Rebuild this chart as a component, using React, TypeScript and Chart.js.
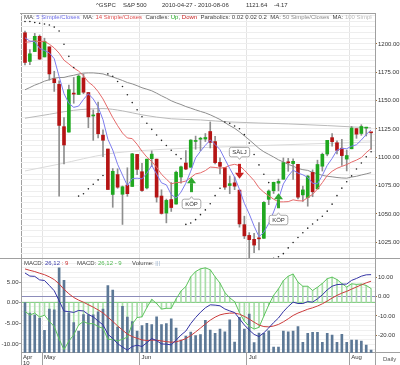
import React, { useEffect, useRef } from 'react';
import { Chart, registerables } from 'chart.js';

Chart.register(...registerables);

const FONT = "'Liberation Sans', Arial, sans-serif";

// ---------- data ----------
const dates = [
  '04-27','04-28','04-29','04-30',
  '05-03','05-04','05-05','05-06','05-07','05-10','05-11','05-12','05-13','05-14','05-17','05-18','05-19','05-20','05-21','05-24','05-25','05-26','05-27','05-28',
  '06-01','06-02','06-03','06-04','06-07','06-08','06-09','06-10','06-11','06-14','06-15','06-16','06-17','06-18','06-21','06-22','06-23','06-24','06-25','06-28','06-29','06-30',
  '07-01','07-02','07-06','07-07','07-08','07-09','07-12','07-13','07-14','07-15','07-16','07-19','07-20','07-21','07-22','07-23','07-26','07-27','07-28','07-29','07-30',
  '08-02','08-03','08-04','08-05','08-06'];

const opens = [
  1209.92,1184.59,1193.30,1206.77,1188.58,1197.50,1169.24,1164.38,1127.04,1122.27,
  1156.39,1155.43,1170.04,1157.19,1136.52,1138.78,1119.57,1107.34,1067.26,1084.78,
  1067.42,1075.51,1074.27,1102.59,1087.30,1073.01,1098.82,1098.43,1065.84,1050.81,
  1062.75,1058.77,1082.65,1095.00,1091.21,1114.02,1115.98,1116.16,1122.79,1113.90,
  1095.57,1090.93,1075.10,1077.50,1071.10,1040.56,1031.10,1027.65,1028.09,1028.54,
  1062.92,1070.50,1077.23,1080.65,1095.61,1094.46,1093.85,1066.85,1064.53,1086.67,
  1072.14,1092.17,1102.89,1117.36,1112.84,1108.07,1098.44,1107.53,1125.34,1121.06,
  1125.78,1122.07];
const highs = [
  1211.38,1195.05,1209.36,1207.99,1205.13,1197.50,1175.95,1167.58,1135.13,1163.85,
  1170.48,1172.87,1173.57,1157.19,1141.88,1148.66,1124.27,1107.34,1090.16,1089.95,
  1074.75,1090.75,1103.52,1102.59,1094.77,1098.56,1105.67,1098.43,1071.36,1063.15,
  1077.74,1087.85,1092.25,1105.91,1115.59,1118.74,1117.72,1121.01,1131.23,1118.50,
  1099.64,1090.93,1083.56,1082.60,1071.10,1048.08,1033.58,1032.95,1042.50,1060.89,
  1071.25,1078.16,1080.78,1099.46,1099.08,1098.66,1093.85,1074.70,1083.94,1088.96,
  1097.50,1103.73,1115.01,1120.95,1114.66,1115.90,1106.44,1127.30,1125.44,1128.75,
  1126.56,1122.07];
const lows = [
  1181.62,1181.81,1193.30,1186.32,1188.58,1168.12,1158.15,1065.79,1094.15,1122.27,
  1147.71,1155.43,1156.14,1126.14,1114.96,1117.20,1100.66,1071.58,1055.90,1072.70,
  1040.78,1065.59,1074.27,1084.78,1069.89,1072.03,1091.81,1060.50,1049.86,1042.17,
  1052.25,1058.77,1077.12,1089.03,1091.21,1107.13,1105.87,1113.93,1108.24,1094.18,
  1085.31,1071.60,1067.89,1071.45,1038.38,1028.33,1010.91,1015.93,1018.35,1028.54,
  1058.24,1068.10,1070.45,1080.65,1087.68,1080.53,1063.32,1061.11,1056.88,1065.25,
  1072.14,1087.88,1101.30,1109.78,1103.11,1092.82,1088.01,1107.53,1116.76,1119.46,
  1118.81,1106.92];
const closes = [
  1183.71,1191.36,1206.78,1186.69,1202.26,1173.60,1165.87,1128.15,1110.88,1159.73,
  1155.79,1171.67,1157.44,1135.68,1136.94,1120.80,1115.05,1071.59,1087.69,1073.65,
  1074.03,1067.95,1103.06,1089.41,1070.71,1098.38,1102.83,1064.88,1050.47,1062.00,
  1055.69,1086.84,1091.60,1089.63,1115.23,1114.61,1116.04,1117.51,1113.20,1095.31,
  1092.04,1073.69,1076.76,1074.57,1041.24,1030.71,1027.37,1022.58,1028.06,1060.27,
  1070.25,1077.96,1078.75,1095.34,1095.17,1096.48,1064.88,1071.25,1083.48,1069.59,
  1093.67,1102.66,1115.01,1113.84,1106.13,1101.53,1101.60,1125.86,1120.46,1127.24,
  1125.81,1121.64];

const ma5 = [
  1205.5,1202.6,1202.2,1196.1,1194.2,1192.1,1187.0,1171.3,1156.2,1147.6,
  1144.1,1145.2,1151.1,1156.1,1151.5,1144.5,1133.2,1116.0,1106.4,1093.8,
  1084.4,1075.0,1081.3,1081.6,1081.0,1085.9,1092.9,1085.2,1077.5,1075.7,
  1067.2,1064.0,1069.3,1077.2,1087.8,1099.6,1105.4,1110.6,1115.3,1111.3,
  1106.8,1098.4,1090.2,1082.5,1071.7,1059.4,1050.1,1039.3,1030.0,1033.8,
  1041.7,1051.8,1063.1,1076.5,1083.5,1088.7,1086.1,1084.6,1082.3,1077.1,
  1076.6,1084.1,1092.9,1099.0,1106.3,1107.8,1107.6,1109.8,1111.1,1115.3,
  1120.2,1124.2];
const ma14 = [
  1201.5,1201.9,1202.8,1202.1,1202.4,1199.8,1196.5,1191.9,1185.7,1182.4,
  1178.8,1176.1,1171.9,1166.4,1163.1,1158.0,1151.5,1143.3,1135.1,1127.9,
  1121.4,1117.1,1116.5,1111.5,1105.4,1100.2,1096.3,1091.2,1085.0,1080.8,
  1076.6,1077.7,1078.0,1079.1,1082.1,1085.4,1086.3,1088.3,1091.4,1091.1,
  1090.4,1091.0,1092.9,1093.8,1092.7,1088.7,1084.1,1079.4,1073.1,1069.2,
  1066.0,1063.1,1060.7,1060.7,1060.9,1062.5,1061.7,1061.5,1064.5,1067.3,
  1072.0,1077.7,1083.9,1087.7,1090.3,1092.0,1093.6,1095.8,1097.6,1099.8,
  1104.2,1107.8];
const ma50 = [
  1159.6,1161.6,1163.7,1165.3,1167.2,1168.5,1169.9,1170.4,1170.5,1171.6,
  1172.4,1173.5,1174.3,1174.5,1174.5,1174.1,1173.6,1172.2,1170.9,1169.4,
  1167.8,1166.0,1164.8,1163.2,1161.4,1160.1,1158.7,1156.6,1154.3,1152.2,
  1149.9,1148.1,1146.6,1144.8,1143.4,1141.9,1140.5,1139.2,1137.5,1135.5,
  1133.4,1130.7,1128.0,1125.6,1122.5,1119.0,1115.4,1111.7,1107.9,1104.9,
  1102.6,1100.3,1097.8,1095.9,1093.8,1092.2,1090.2,1089.1,1088.5,1086.7,
  1085.5,1084.1,1083.3,1082.8,1082.2,1081.8,1081.6,1082.6,1083.3,1084.4,
  1085.4,1086.5];
const ma100Day = [0, 5, 10, 16, 20, 24, 30, 36, 42, 54, 62, 71];
const ma100Val = [1134.5, 1138.0, 1141.5, 1143.0, 1141.0, 1137.5, 1134.0, 1133.0, 1131.2, 1129.5, 1128.0, 1126.0];
const ma200Day = [0, 7, 17, 24, 36, 46, 56, 71];
const ma200Val = [1088.0, 1094.0, 1103.0, 1106.0, 1108.5, 1110.0, 1111.5, 1113.5];

const sar = [
  1219.8,1219.8,1219.0,1218.3,1217.6,1216.8,1214.9,1211.5,1199.8,1189.1,
  1179.2,1065.8,1067.9,1072.2,1076.2,1080.1,1083.9,1173.6,1171.5,1166.9,
  1162.5,1155.2,1148.3,1141.9,1135.8,1130.1,1124.7,1119.7,1115.0,1110.5,
  1106.3,1102.4,1098.7,1040.8,1042.1,1045.0,1049.4,1053.6,1059.0,1066.2,
  1072.7,1131.2,1130.0,1127.6,1125.2,1120.0,1112.6,1102.5,1093.3,1085.1,
  1077.7,1010.9,1012.3,1015.0,1020.1,1024.8,1029.3,1033.5,1037.5,1041.2,
  1044.7,1048.0,1052.5,1058.7,1066.2,1072.8,1078.5,1083.6,1089.7,1095.0,
  1100.4,1104.9];

const macdLine = [
  12.35,10.75,10.59,8.75,8.45,5.83,3.10,-2.09,-7.50,-7.76,
  -8.19,-7.17,-7.42,-9.27,-10.51,-12.65,-14.64,-19.49,-21.79,-24.46,
  -26.24,-27.82,-25.94,-25.27,-25.94,-23.97,-21.79,-22.87,-24.60,-24.75,
  -25.09,-22.59,-19.99,-17.89,-14.00,-10.84,-8.12,-5.78,-4.23,-4.39,
  -4.73,-6.40,-7.39,-8.25,-11.49,-14.74,-17.38,-19.64,-20.74,-18.80,
  -16.27,-13.50,-11.11,-7.78,-5.10,-2.83,-3.54,-3.55,-2.55,-2.84,
  -1.12,0.96,3.56,5.47,6.29,6.49,6.58,8.51,9.49,10.69,
  11.39,11.49];
const signalLine = [
  14.47,13.73,13.10,12.23,11.47,10.34,8.89,6.70,3.86,1.54,
  -0.41,-1.76,-2.89,-4.17,-5.44,-6.88,-8.43,-10.64,-12.87,-15.19,
  -17.40,-19.48,-20.77,-21.67,-22.52,-22.81,-22.61,-22.66,-23.05,-23.39,
  -23.73,-23.50,-22.80,-21.82,-20.26,-18.37,-16.32,-14.21,-12.21,-10.65,
  -9.47,-8.86,-8.57,-8.51,-9.11,-10.24,-11.67,-13.26,-14.76,-15.57,
  -15.71,-15.27,-14.44,-13.11,-11.51,-9.77,-8.52,-7.53,-6.53,-5.79,
  -4.86,-3.70,-2.25,-0.71,0.69,1.85,2.80,3.94,5.05,6.18,
  7.22,8.07];
const macdHist = [
  -2.12,-2.98,-2.51,-3.48,-3.02,-4.51,-5.79,-8.79,-11.36,-9.30,
  -7.78,-5.41,-4.53,-5.10,-5.07,-5.77,-6.21,-8.85,-8.92,-9.27,
  -8.84,-8.34,-5.17,-3.60,-3.42,-1.16,0.82,-0.21,-1.55,-1.36,
  -1.36,0.91,2.81,3.93,6.26,7.53,8.20,8.43,7.98,6.26,
  4.74,2.46,1.18,0.26,-2.38,-4.50,-5.71,-6.38,-5.98,-3.23,
  -0.56,1.77,3.33,5.33,6.41,6.94,4.98,3.98,3.98,2.95,
  3.74,4.66,5.81,6.18,5.60,4.64,3.78,4.57,4.44,4.51,
  4.17,3.42];
const volumes = [
  7.45,6.51,6.35,6.05,4.94,6.88,6.80,10.62,9.47,6.54,
  5.65,4.87,6.38,6.35,6.35,6.62,6.87,8.99,8.59,5.24,
  7.13,6.14,5.73,4.87,5.37,5.59,5.46,6.18,5.47,5.56,
  5.98,5.14,4.06,4.42,4.79,4.47,4.56,5.86,4.97,4.68,
  5.05,4.81,5.89,3.89,6.13,5.07,6.43,3.84,4.69,4.68,
  4.90,3.43,3.43,4.87,4.81,4.87,5.29,3.86,4.68,4.77,
  4.77,3.86,4.68,4.52,3.86,4.59,3.86,4.07,4.07,3.98,
  3.62,3.16];

const priceLabels = [1025, 1050, 1075, 1100, 1125, 1150, 1175, 1200];
const macdLabels = [-20, -10, 0, 10];
const histLabels = [-10, -5, 0, 5];
const monthNames: Record<string, string> = { '04': 'Apr', '05': 'May', '06': 'Jun', '07': 'Jul', '08': 'Aug' };

const signalDay = [34, 44, 52];
const signalKind = ['buy', 'sell', 'buy'];
const signalPrice = [1082.5, 1081.0, 1068.3];
const signalText = ['KÖP', 'SÄLJ', 'KÖP'];

// ---------- layout constants ----------
const X_MIN = -0.82;
const X_MAX = 71.8;
const P_MIN = 1011.17;
const P_MAX = 1227.35;

function monthTicks() {
  const t: { value: number; label: any }[] = [{ value: X_MIN, label: [monthNames[dates[0].slice(0, 2)], '10'] }];
  for (let i = 1; i < dates.length; i++) {
    if (dates[i].slice(0, 2) !== dates[i - 1].slice(0, 2)) {
      t.push({ value: i - 0.5, label: monthNames[dates[i].slice(0, 2)] });
    }
  }
  return t;
}

const pts = (arr: number[]) => arr.map((v, i) => ({ x: i, y: v }));

const signalPlugin = {
  id: 'signals',
  afterDatasetsDraw(chart: any) {
    const { ctx } = chart;
    const xs = chart.scales.x;
    const ys = chart.scales.y;
    ctx.save();
    ctx.font = `6px ${FONT}`;
    signalDay.forEach((d, k) => {
      const px = Math.round(xs.getPixelForValue(d)) + 0.5;
      const tip = ys.getPixelForValue(signalPrice[k]);
      const up = signalKind[k] === 'buy';
      const dir = up ? 1 : -1;
      ctx.fillStyle = up ? '#2fa82f' : '#c81e1e';
      ctx.beginPath();
      ctx.moveTo(px, tip);
      ctx.lineTo(px - 4.5, tip + dir * 6);
      ctx.lineTo(px + 4.5, tip + dir * 6);
      ctx.closePath();
      ctx.fill();
      ctx.fillRect(px - 1.5, up ? tip + 6 : tip - 15, 3, 9);
      const text = signalText[k];
      const tw = ctx.measureText(text).width;
      const bw = tw + 6;
      const bh = 9.5;
      const by = up ? tip + 22 : tip - 22 - bh;
      const bx = px - bw / 2;
      const r = 2;
      ctx.beginPath();
      ctx.moveTo(bx + r, by);
      if (up) {
        ctx.lineTo(px - 2, by);
        ctx.lineTo(px, by - 2.5);
        ctx.lineTo(px + 2, by);
      }
      ctx.lineTo(bx + bw - r, by);
      ctx.arcTo(bx + bw, by, bx + bw, by + r, r);
      ctx.lineTo(bx + bw, by + bh - r);
      ctx.arcTo(bx + bw, by + bh, bx + bw - r, by + bh, r);
      if (!up) {
        ctx.lineTo(px + 2, by + bh);
        ctx.lineTo(px, by + bh + 2.5);
        ctx.lineTo(px - 2, by + bh);
      }
      ctx.lineTo(bx + r, by + bh);
      ctx.arcTo(bx, by + bh, bx, by + bh - r, r);
      ctx.lineTo(bx, by + r);
      ctx.arcTo(bx, by, bx + r, by, r);
      ctx.closePath();
      ctx.fillStyle = '#ffffff';
      ctx.fill();
      ctx.strokeStyle = '#a8a8a8';
      ctx.lineWidth = 1;
      ctx.stroke();
      ctx.fillStyle = '#333333';
      ctx.textAlign = 'center';
      ctx.textBaseline = 'middle';
      ctx.fillText(text, px, by + bh / 2 + 0.5);
    });
    ctx.restore();
  },
};

function mainConfig(): any {
  const bodyColors = closes.map((c, i) => (c >= opens[i] ? '#1fa81f' : '#b51414'));
  return {
    type: 'bar',
    data: {
      datasets: [
        { type: 'line', label: 'Parabolic SAR', data: pts(sar), showLine: false, pointRadius: 0.8, pointBorderWidth: 0, pointBackgroundColor: '#222', order: 0 },
        { type: 'line', label: 'MA 5', data: pts(ma5), borderColor: '#7d7dee', borderWidth: 1, pointRadius: 0, tension: 0, order: 1 },
        { type: 'line', label: 'MA 14', data: pts(ma14), borderColor: '#e56a6a', borderWidth: 1, pointRadius: 0, tension: 0, order: 2 },
        { type: 'bar', label: 'Body', data: opens.map((o, i) => ({ x: i, y: [o, closes[i]] })), backgroundColor: bodyColors, barThickness: 3, minBarLength: 1, grouped: false, order: 3 },
        { type: 'bar', label: 'Wick', data: lows.map((l, i) => ({ x: i, y: [l, highs[i]] })), backgroundColor: '#8e8e8e', barThickness: 1, grouped: false, order: 4 },
        { type: 'line', label: 'MA 50', data: pts(ma50), borderColor: '#8e8e8e', borderWidth: 1, pointRadius: 0, order: 5 },
        { type: 'line', label: 'MA 100', data: ma100Day.map((d, i) => ({ x: d, y: ma100Val[i] })), borderColor: '#bababa', borderWidth: 1, pointRadius: 0, cubicInterpolationMode: 'monotone', order: 6 },
        { type: 'line', label: 'MA 200', data: ma200Day.map((d, i) => ({ x: d, y: ma200Val[i] })), borderColor: '#dadada', borderWidth: 1, pointRadius: 0, cubicInterpolationMode: 'monotone', order: 7 },
      ],
    },
    options: {
      responsive: false,
      animation: false,
      events: [],
      layout: { padding: { left: 21, right: 0, top: 13, bottom: 8 } },
      plugins: { legend: { display: false }, tooltip: { enabled: false }, title: { display: false } },
      scales: {
        x: {
          type: 'linear', min: X_MIN, max: X_MAX, offset: false,
          afterBuildTicks: (s: any) => { s.ticks = monthTicks().map((t) => ({ value: t.value })); },
          ticks: { display: false },
          grid: { offset: false, drawTicks: false, color: (c: any) => (c.tick && c.tick.value === X_MIN ? '#a0a0a0' : '#e4e4e4') },
          border: { display: false },
          afterFit: (s: any) => { s.height = 0; },
        },
        y: {
          type: 'linear', position: 'right', min: P_MIN, max: P_MAX,
          afterBuildTicks: (s: any) => { const t = []; for (let v = 1015; v <= 1225; v += 5) t.push({ value: v }); s.ticks = t; },
          ticks: { autoSkip: false, padding: 1, color: '#333', font: { size: 6, family: FONT }, callback: (v: any) => (priceLabels.includes(v) ? Number(v).toFixed(2) : '') },
          grid: { color: '#eeeeee', tickLength: 2, tickColor: (c: any) => (c.tick && priceLabels.includes(c.tick.value) ? '#a0703a' : 'rgba(0,0,0,0)') },
          border: { display: true, color: '#a0a0a0' },
          afterFit: (s: any) => { s.width = 25; },
        },
      },
    },
    plugins: [signalPlugin],
  };
}

function subConfig(): any {
  const ticks = monthTicks();
  return {
    type: 'bar',
    data: {
      datasets: [
        { type: 'line', label: 'MACD', data: pts(macdLine), yAxisID: 'yR', borderColor: '#3434a4', borderWidth: 1, pointRadius: 0, order: 0 },
        { type: 'line', label: 'Signal', data: pts(signalLine), yAxisID: 'yR', borderColor: '#cc3c3c', borderWidth: 1, pointRadius: 0, order: 1 },
        { type: 'line', label: 'Histogram', data: pts(macdHist), yAxisID: 'yL', borderColor: '#5cc35c', borderWidth: 1, pointRadius: 0, order: 2 },
        { type: 'bar', label: 'Volume', data: pts(volumes), yAxisID: 'yV', backgroundColor: '#5c7896', barThickness: 2, grouped: false, order: 3 },
        { type: 'bar', label: 'Histogram bars', data: pts(macdHist), yAxisID: 'yL', backgroundColor: '#a9dea9', barThickness: 1, grouped: false, order: 4 },
      ],
    },
    options: {
      responsive: false,
      animation: false,
      events: [],
      layout: { padding: { left: 0, right: 0, top: 8, bottom: 0 } },
      plugins: { legend: { display: false }, tooltip: { enabled: false }, title: { display: false } },
      scales: {
        x: {
          type: 'linear', min: X_MIN, max: X_MAX, offset: false,
          afterBuildTicks: (s: any) => { s.ticks = ticks.map((t) => ({ value: t.value })); },
          ticks: {
            autoSkip: false, maxRotation: 0, align: 'start', labelOffset: 2, padding: -10.8, color: '#333',
            font: { size: 6, family: FONT, lineHeight: 1 },
            callback: (_v: any, i: number) => ticks[i].label,
          },
          grid: { offset: false, color: (c: any) => (c.tick && c.tick.value === X_MIN ? 'rgba(0,0,0,0)' : '#e4e4e4'), tickLength: 12.3, tickColor: '#a0a0a0' },
          border: { display: true, color: '#a0a0a0' },
          afterFit: (s: any) => { s.height = 12.3; },
        },
        yL: {
          type: 'linear', position: 'left', min: -12.11, max: 10.82,
          afterBuildTicks: (s: any) => { s.ticks = histLabels.map((v) => ({ value: v })); },
          ticks: { autoSkip: false, padding: 0.5, color: '#333', font: { size: 6, family: FONT }, callback: (v: any) => Number(v).toFixed(2) },
          grid: { color: (c: any) => (c.tick && c.tick.value === 0 ? '#86cf86' : 'rgba(0,0,0,0)'), tickLength: 2, tickColor: '#a0a0a0' },
          border: { display: true, color: '#a0a0a0' },
          afterFit: (s: any) => { s.width = 21; },
        },
        yR: {
          type: 'linear', position: 'right', min: -29.17, max: 20.16,
          afterBuildTicks: (s: any) => { const t = []; for (let v = -27.5; v <= 17.5; v += 2.5) t.push({ value: v }); s.ticks = t; },
          ticks: { autoSkip: false, padding: 1, color: '#333', font: { size: 6, family: FONT }, callback: (v: any) => (macdLabels.includes(v) ? Number(v).toFixed(2) : '') },
          grid: {
            color: (c: any) => (c.tick && c.tick.value === 0 ? '#8c8cba' : '#f0f0f0'),
            tickLength: 2,
            tickColor: (c: any) => (c.tick && macdLabels.includes(c.tick.value) ? '#a0703a' : 'rgba(0,0,0,0)'),
          },
          border: { display: true, color: '#a0a0a0' },
          afterFit: (s: any) => { s.width = 25; },
        },
        yV: { type: 'linear', display: false, min: 2.92, max: 11.5 },
      },
    },
  };
}

const txt: React.CSSProperties = { position: 'absolute', fontSize: '6px', lineHeight: '7px', whiteSpace: 'pre', color: '#444', fontFamily: FONT };

export default function App() {
  const mainRef = useRef<HTMLCanvasElement>(null);
  const subRef = useRef<HTMLCanvasElement>(null);

  useEffect(() => {
    Chart.defaults.font.family = FONT;
    Chart.defaults.font.size = 6;
    const main = new Chart(mainRef.current as HTMLCanvasElement, mainConfig());
    const sub = new Chart(subRef.current as HTMLCanvasElement, subConfig());
    return () => { main.destroy(); sub.destroy(); };
  }, []);

  const line = (l: number, t: number, w: number, h: number): React.CSSProperties => ({ position: 'absolute', left: l, top: t, width: w, height: h, background: '#a0a0a0' });

  return (
    <div style={{ position: 'fixed', left: 0, top: 0, width: 400, height: 365, background: '#fff', overflow: 'hidden', fontFamily: FONT }}>
      <canvas ref={mainRef} width={400} height={266} style={{ position: 'absolute', left: 0, top: 0 }} />
      <canvas ref={subRef} width={400} height={115} style={{ position: 'absolute', left: 0, top: 250 }} />

      {/* frame lines */}
      <div style={line(20, 13, 355, 1)} />
      <div style={line(0, 258, 400, 1)} />
      <div style={line(375, 352, 25, 1)} />
      <div style={line(375, 352, 1, 13)} />

      {/* title */}
      <div style={{ ...txt, top: 2, left: 96, color: '#333' }}>^GSPC</div>
      <div style={{ ...txt, top: 2, left: 123, color: '#333' }}>S&amp;P 500</div>
      <div style={{ ...txt, top: 2, left: 162, color: '#333' }}>2010-04-27 - 2010-08-06</div>
      <div style={{ ...txt, top: 2, left: 246, color: '#333' }}>1121.64</div>
      <div style={{ ...txt, top: 2, left: 274, color: '#333' }}>-4.17</div>

      {/* price panel legend */}
      <div style={{ ...txt, top: 13.5, left: 24, width: 348, overflow: 'hidden' }}>
        MA: <span style={{ color: '#6c6ce6' }}>5 Simple/Closes</span>{'  '}
        MA: <span style={{ color: '#e05050' }}>14 Simple/Closes</span>{'  '}
        Candles: <span style={{ color: '#22a822' }}>Up</span>, <span style={{ color: '#c42020' }}>Down</span>{'  '}
        Parabolics: 0.02 0.02 0.2{'  '}
        MA: <span style={{ color: '#8a8a8a' }}>50 Simple/Closes</span>{'  '}
        MA: <span style={{ color: '#bcbcbc' }}>100 Simple/Closes</span>
      </div>

      {/* lower panel legend */}
      <div style={{ ...txt, top: 259.5, left: 24 }}>MACD: <span style={{ color: '#3a3aa8' }}>26,12</span><span style={{ color: '#cc3333' }}> : 9</span></div>
      <div style={{ ...txt, top: 259.5, left: 77 }}>MACD: <span style={{ color: '#4fb84f' }}>26,12 - 9</span></div>
      <div style={{ ...txt, top: 259.5, left: 132 }}>Volume: <span style={{ color: '#9ab0cc' }}>|||</span></div>

      <div style={{ ...txt, top: 356, left: 383, color: '#555' }}>Daily</div>
    </div>
  );
}
